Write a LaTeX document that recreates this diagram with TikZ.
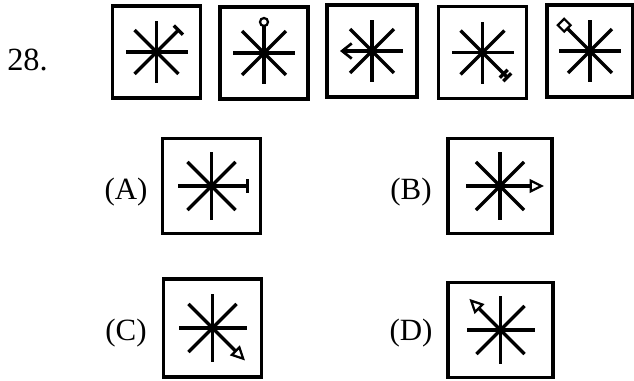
\documentclass[tikz,border=0pt]{standalone}
\usepackage{fontspec}
\setmainfont{Liberation Serif}
\usetikzlibrary{arrows.meta}
\tikzset{
  panel/.style={draw, line width=2.3pt, inner sep=0pt, minimum width=22mm, minimum height=23mm},
  optpanel/.style={panel, minimum width=24.6mm, minimum height=23.6mm},
  ray/.style={line width=2.4pt},
  fineray/.style={line width=1.6pt},
  tag/.style={font=\fontsize{22pt}{26pt}\selectfont, inner sep=0pt, anchor=base},
  openhead/.style={-{Triangle[open, length=3.6mm, width=3.4mm, line width=1.6pt]}},
  barbhead/.style={-{Straight Barb[length=2.4mm, width=3.8mm, line width=1.9pt]}},
}
% eight rays round a centre, one direction left out for its ornament
\newcommand{\burst}[3]{%
  \foreach \a in {0,45,...,315}{\ifnum\a=#3\relax\else\draw[ray] (#1) -- ++(\a:#2);\fi}}

\begin{document}
\begin{tikzpicture}[x=0.25mm,y=0.25mm]
  \useasboundingbox (0,0) rectangle (634,380);
  \node[tag, anchor=base west, font=\fontsize{23pt}{27pt}\selectfont] (num) at (7,310) {28.};
  % the series
  \node[panel] (p1) at (156.5,328) {};
  \node[panel] (p2) at (264,327) {};
  \node[panel, minimum width=22.5mm] (p3) at (372,329) {};
  \node[panel] (p4) at (482.5,327.5) {};
  \node[panel, minimum width=21.5mm] (p5) at (590,329) {};
  \burst{p1.center}{31}{45}
  \draw[ray] (p1.center) -- ++(45:31);
  \draw[ray] (p1.center) ++(45:31) ++(135:6.5) -- ++(-45:13);
  \burst{p2.center}{31}{90}
  \draw[ray] (p2.center) -- ++(90:27);
  \draw[fineray] (p2.center) ++(90:31) circle[radius=4];
  \burst{p3.center}{31}{180}
  \draw[ray, barbhead] (p3.center) -- ++(180:32);
  \burst{p4.center}{31}{315}
  \draw[ray] (p4.center) -- ++(315:35);
  \draw[ray] (p4.center) ++(315:30) ++(45:5.5) -- ++(225:11);
  \draw[ray] (p4.center) ++(315:35) ++(45:5.5) -- ++(225:11);
  \burst{p5.center}{31}{135}
  \draw[ray] (p5.center) -- ++(135:32);
  \draw[fineray] (p5.center) ++(135:32) ++(45:4.5) -- ++(135:9) -- ++(225:9) -- ++(315:9) -- cycle;
  % the answers
  \node[tag] (la) at (126,181) {(A)};
  \node[optpanel] (qa) at (211.5,194) {};
  \burst{qa.center}{34}{0}
  \draw[ray] (qa.center) -- ++(0:36);
  \draw[ray] (qa.center) ++(0:36) ++(90:7) -- ++(270:14);
  \node[tag] (lb) at (411,181) {(B)};
  \node[optpanel, minimum width=26mm] (qb) at (500,194) {};
  \burst{qb.center}{34}{0}
  \draw[ray, openhead] (qb.center) -- ++(0:44);
  \node[tag] (lc) at (126,40) {(C)};
  \node[optpanel, minimum height=24.5mm] (qc) at (212.5,52) {};
  \burst{qc.center}{34}{315}
  \draw[ray, openhead] (qc.center) -- ++(315:46);
  \node[tag] (ld) at (411,40) {(D)};
  \node[optpanel, minimum width=26.2mm] (qd) at (500.5,50) {};
  \burst{qd.center}{34}{135}
  \draw[ray, openhead] (qd.center) -- ++(135:44);
\end{tikzpicture}
\end{document}
